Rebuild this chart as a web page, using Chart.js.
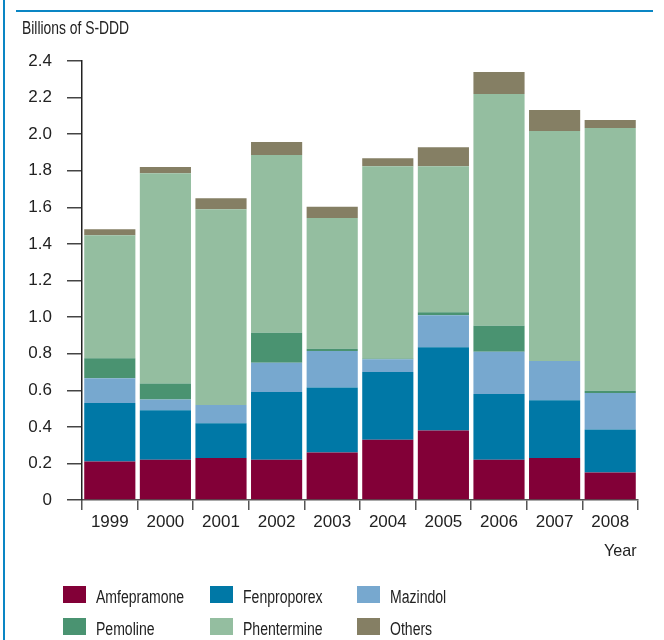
<!DOCTYPE html>
<html>
<head>
<meta charset="utf-8">
<script src="https://cdn.jsdelivr.net/npm/chart.js@4/dist/chart.umd.min.js"></script>
<style>
  html, body { margin: 0; padding: 0; background: #fff; }
  body { width: 664px; height: 640px; position: relative; overflow: hidden;
         font-family: 'Liberation Sans', Arial, sans-serif; color: #222; }
  #wrap { position: absolute; left: 0; top: 0; width: 664px; height: 640px; }
  .txt { position: absolute; white-space: nowrap; transform-origin: 0 0; }
  .frameL { position: absolute; left: 3px; top: 0; width: 2px; height: 640px; background: #0a86c4; }
  .frameT { position: absolute; left: 16px; top: 10px; width: 637px; height: 2px; background: #0a86c4; }
  .lg-box { position: absolute; width: 23px; height: 17px; }
</style>
</head>
<body>
<div class="frameL"></div>
<div class="frameT"></div>
<div id="wrap"><canvas id="c" width="664" height="640"></canvas></div>
<div class="txt" style="left:22px; top:18px; font-size:19px; line-height:19px; transform:scaleX(0.73);">Billions of S-DDD</div>
<div class="txt" style="left:604px; top:542px; font-size:17px; line-height:17px; transform:scaleX(0.95);">Year</div>
<div id="legend"></div>
<script>
const years = ['1999','2000','2001','2002','2003','2004','2005','2006','2007','2008'];
const seriesNames = ['Amfepramone','Fenproporex','Mazindol','Pemoline','Phentermine','Others'];
const amfepramone = [0.21, 0.22, 0.23, 0.22, 0.26, 0.33, 0.38, 0.22, 0.23, 0.15];
const fenproporex = [0.32, 0.27, 0.19, 0.37, 0.355, 0.37, 0.455, 0.36, 0.315, 0.235];
const mazindol    = [0.135, 0.06, 0.10, 0.16, 0.20, 0.07, 0.175, 0.23, 0.215, 0.20];
const pemoline    = [0.11, 0.087, 0.0, 0.164, 0.012, 0.004, 0.017, 0.142, 0.0, 0.012];
const phentermine = [0.672, 1.15, 1.07, 0.972, 0.715, 1.05, 0.798, 1.268, 1.257, 1.437];
const others      = [0.033, 0.033, 0.06, 0.071, 0.061, 0.044, 0.104, 0.12, 0.115, 0.044];
const yTicks = [0, 0.2, 0.4, 0.6, 0.8, 1.0, 1.2, 1.4, 1.6, 1.8, 2.0, 2.2, 2.4];
const colors = ['#820037', '#0078a6', '#77a8cf', '#4a9371', '#94bea0', '#857f64'];

const seriesValues = [amfepramone, fenproporex, mazindol, pemoline, phentermine, others];

const FONT = "'Liberation Sans', Arial, sans-serif";

const datasets = seriesNames.map((name, i) => ({
  label: name,
  data: seriesValues[i],
  backgroundColor: colors[i],
  borderWidth: 0,
  barPercentage: 0.92,
  categoryPercentage: 1.0
}));

new Chart(document.getElementById('c'), {
  type: 'bar',
  data: { labels: years, datasets },
  options: {
    responsive: false,
    animation: false,
    layout: { padding: { left: 0, right: 26, top: 61, bottom: 100 } },
    plugins: { legend: { display: false }, tooltip: { enabled: false }, title: { display: false } },
    scales: {
      x: {
        stacked: true,
        grid: { display: true, drawOnChartArea: false, offset: true, tickLength: 10, color: '#555', lineWidth: 1.5 },
        border: { display: true, color: '#555', width: 1.5 },
        ticks: { font: { family: FONT, size: 17 }, color: '#222', padding: 2, maxRotation: 0 },
        afterFit: (s) => { s.height = 40; }
      },
      y: {
        stacked: true,
        min: 0, max: 2.4,
        afterBuildTicks: (s) => { s.ticks = yTicks.map(v => ({ value: v })); },
        grid: { display: true, drawOnChartArea: false, tickLength: 15, color: '#444', lineWidth: 1.5 },
        border: { display: true, color: '#222', width: 1.5 },
        ticks: {
          font: { family: FONT, size: 17 }, color: '#222', padding: 15,
          callback: (v) => (v === 0 ? '0' : v.toFixed(1))
        },
        afterFit: (s) => { s.width = 82; }
      }
    }
  }
});

// Legend (HTML, built from series arrays)
const legend = document.getElementById('legend');
const colX = [63, 210, 357];
const rowY = [586, 618];
seriesNames.forEach((name, i) => {
  const col = i % 3, row = Math.floor(i / 3);
  const box = document.createElement('div');
  box.className = 'lg-box';
  box.style.left = colX[col] + 'px';
  box.style.top = rowY[row] + 'px';
  box.style.background = colors[i];
  legend.appendChild(box);
  const t = document.createElement('div');
  t.className = 'txt';
  t.style.left = (colX[col] + 33) + 'px';
  t.style.top = (rowY[row] + 2) + 'px';
  t.style.fontSize = '18px';
  t.style.lineHeight = '18px';
  t.style.transform = 'scaleX(0.78)';
  t.textContent = name;
  legend.appendChild(t);
});
</script>
</body>
</html>
